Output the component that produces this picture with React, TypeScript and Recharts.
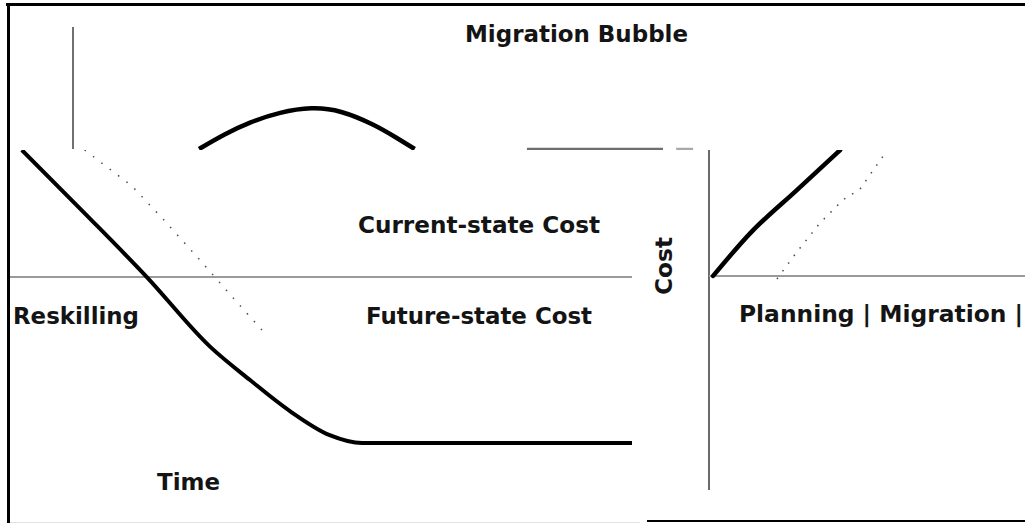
import React from "react";
import { LineChart, Line, XAxis, YAxis, ReferenceLine } from "recharts";

// top panel: the migration bubble over the planning window
const bubbleTime = [20.1, 24.2, 28.2, 33, 38.1, 42.6, 48.2, 51.4, 54.5];
const bubbleCost = [0, 12.3, 22.1, 30.3, 34.4, 32, 19.7, 9.8, 0];
const baseTime = [72.4, 94.1];
const baseTailTime = [96.2, 98.9];

// lower-left panel: cost over time
const spendTime = [1.9, 12.1, 22, 32.2, 38.6, 45, 51.4, 56.6, 100];
const spendCost = [100, 79.6, 59.4, 37.1, 26.5, 16.6, 8.9, 6.4, 6.4];
const legacyTime = [12, 19.6, 24.9, 30.5, 35.9, 40.5];
const legacyCost = [100, 88.5, 77.3, 64.9, 52.7, 42.5];
const currentStateLevel = 59.4;

// right panel: cost rising from zero
const rampTime = [1.3, 13, 27.8, 41.5];
const rampCost = [0, 16.9, 34.1, 50];
const rampDotTime = [21.5, 27.8, 35.1, 42.4, 47.8, 56];
const rampDotCost = [-1.2, 9.5, 21, 30.2, 34.5, 49.2];

const zip = (ts: number[], vs: number[]) => ts.map((t, i) => ({ t, v: vs[i] }));

const bubble = zip(bubbleTime, bubbleCost);
const base = zip(baseTime, [0, 0]);
const baseTail = zip(baseTailTime, [0, 0]);
const spend = zip(spendTime, spendCost);
const legacy = zip(legacyTime, legacyCost);
const ramp = zip(rampTime, rampCost);
const rampDots = zip(rampDotTime, rampDotCost);

const FONT = "'DejaVu Sans', Verdana, sans-serif";
const INK = "#141414";

const txt = (x: number, y: number, s: string, len: number, size = 23) => (
  <text
    x={x}
    y={y}
    fontFamily={FONT}
    fontWeight="bold"
    fontSize={size}
    fill={INK}
    textLength={len}
    lengthAdjust="spacingAndGlyphs"
  >
    {s}
  </text>
);

export default function App() {
  return (
    <div
      style={{
        position: "absolute",
        left: 0,
        top: 0,
        width: 1025,
        height: 523,
        background: "#fff",
        overflow: "hidden",
      }}
    >
      {/* top panel */}
      <div style={{ position: "absolute", left: 0, top: 0, width: 700, height: 155 }}>
        <LineChart width={700} height={155} margin={{ top: 27, right: 0, left: 73, bottom: 6 }}>
          <XAxis type="number" dataKey="t" domain={[0, 100]} hide />
          <YAxis type="number" domain={[0, 100]} hide />
          <ReferenceLine x={0} stroke="#707070" strokeWidth={2} />
          <Line data={bubble} dataKey="v" type="basis" stroke="#000" strokeWidth={4.5} dot={false} isAnimationActive={false} />
          <Line data={base} dataKey="v" stroke="#6f6f6f" strokeWidth={2.5} dot={false} isAnimationActive={false} />
          <Line data={baseTail} dataKey="v" stroke="#a8a8a8" strokeWidth={2.5} dot={false} isAnimationActive={false} />
        </LineChart>
      </div>

      {/* lower-left panel */}
      <div
        style={{
          position: "absolute",
          left: 0,
          top: 150,
          width: 640,
          height: 373,
          background: "#fff",
          overflow: "hidden",
        }}
      >
        <LineChart width={640} height={373} margin={{ top: 0, right: 8, left: 10, bottom: 60 }}>
          <XAxis type="number" dataKey="t" domain={[0, 100]} hide />
          <YAxis type="number" domain={[0, 100]} hide />
          <ReferenceLine y={currentStateLevel} stroke="#9a9a9a" strokeWidth={2} />
          <Line
            data={legacy}
            dataKey="v"
            type="linear"
            stroke="#4a4a4a"
            strokeWidth={1.5}
            strokeDasharray="1.5 9"
            dot={false}
            isAnimationActive={false}
          />
          <Line
            data={spend}
            dataKey="v"
            type="monotone"
            stroke="#000"
            strokeWidth={4}
            dot={false}
            isAnimationActive={false}
          />
        </LineChart>
      </div>

      {/* right panel */}
      <div
        style={{
          position: "absolute",
          left: 632,
          top: 150,
          width: 393,
          height: 373,
          background: "#fff",
          overflow: "hidden",
        }}
      >
        <LineChart width={393} height={373} margin={{ top: 0, right: 0, left: 77, bottom: 33 }}>
          <XAxis type="number" dataKey="t" domain={[0, 100]} hide />
          <YAxis type="number" domain={[-85, 50]} hide />
          <ReferenceLine x={0} stroke="#6a6a6a" strokeWidth={2} />
          <ReferenceLine y={0} stroke="#9a9a9a" strokeWidth={2} />
          <Line
            data={rampDots}
            dataKey="v"
            type="linear"
            stroke="#4a4a4a"
            strokeWidth={1.5}
            strokeDasharray="1.5 8"
            dot={false}
            isAnimationActive={false}
          />
          <Line
            data={ramp}
            dataKey="v"
            type="monotone"
            stroke="#000"
            strokeWidth={4.5}
            strokeLinecap="round"
            dot={false}
            isAnimationActive={false}
          />
        </LineChart>
      </div>

      {/* frame */}
      <div style={{ position: "absolute", left: 6, top: 3, width: 1019, height: 3, background: "#000" }} />
      <div style={{ position: "absolute", left: 7, top: 3, width: 3, height: 520, background: "#000" }} />
      <div style={{ position: "absolute", left: 10, top: 522, width: 630, height: 1, background: "#e2e2e2" }} />
      <div style={{ position: "absolute", left: 647, top: 520, width: 378, height: 2, background: "#000" }} />

      {/* labels */}
      <svg width={1025} height={523} style={{ position: "absolute", left: 0, top: 0, pointerEvents: "none" }}>
        {txt(465, 42, "Migration Bubble", 223)}
        {txt(358, 233, "Current-state Cost", 242)}
        {txt(13, 324, "Reskilling", 126)}
        {txt(366, 324, "Future-state Cost", 226)}
        {txt(157, 490, "Time", 63)}
        {txt(739, 322, "Planning | Migration |", 284)}
        <text
          transform="translate(672,266) rotate(-90)"
          textAnchor="middle"
          fontFamily={FONT}
          fontWeight="bold"
          fontSize={23}
          fill={INK}
          textLength={58}
          lengthAdjust="spacingAndGlyphs"
        >
          Cost
        </text>
      </svg>
    </div>
  );
}
